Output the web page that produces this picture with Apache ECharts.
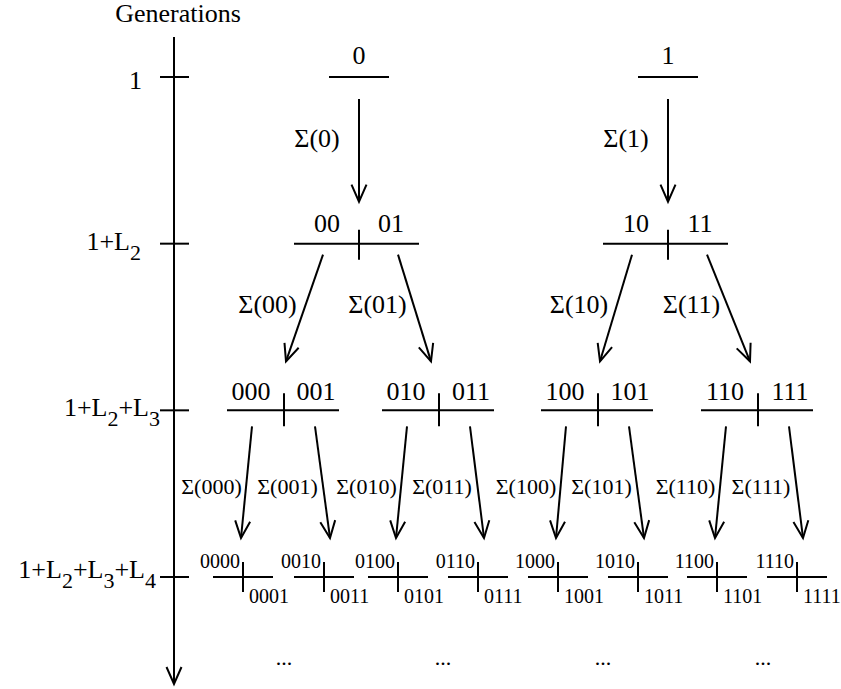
<!DOCTYPE html>
<html>
<head>
<meta charset="utf-8">
<script src="https://cdn.jsdelivr.net/npm/echarts@6/dist/echarts.min.js"></script>
<style>
html,body{margin:0;padding:0;background:#fff;}
#c{width:841px;height:689px;}
</style>
</head>
<body>
<div id="c"></div>
<script>
// ---------- data ----------
const axisTitle = 'Generations';
const generationLabels = ['1', '1+L2', '1+L2+L3', '1+L2+L3+L4'];
const generationLevels = [1, 2, 3, 4];
const level1Codes = ['0', '1'];
const level2Codes = ['00', '01', '10', '11'];
const level3Codes = ['000', '001', '010', '011', '100', '101', '110', '111'];
const level4Codes = ['0000', '0001', '0010', '0011', '0100', '0101', '0110', '0111',
                     '1000', '1001', '1010', '1011', '1100', '1101', '1110', '1111'];
const level1X = [359, 668];
const level2X = [359, 668];
const level3X = [284, 439, 598, 758];
const level4X = [243, 324, 398, 478, 558, 638, 717, 797];
const continuationX = [284, 443, 603, 763];
const continuationText = '...';

// ---------- layout / style constants ----------
const FONT = '"Liberation Serif", "Times New Roman", Times, serif';
const INK = '#000';
const LW = 2;
const AXIS_X = 174;
const AXIS_TOP_GEN = 0.76, AXIS_END_GEN = 4.642, TITLE_GEN = 0.62, TITLE_X = 178;
const CONT_GEN = 4.48;
const genLabelRight = [142, 141, 160, 156];
const genLabelDy = [3, -2, -3, -8];

function ln(x1, y1, x2, y2) {
  return { type: 'line', silent: true, shape: { x1, y1, x2, y2 },
           style: { stroke: INK, lineWidth: LW, fill: null } };
}
function tx(x, y, text, size, align) {
  return { type: 'text', silent: true,
           style: { x, y, text, fontSize: size, fontFamily: FONT, fill: INK,
                    align: align || 'center', verticalAlign: 'middle' } };
}
function arrow(x1, y1, x2, y2) {
  const a = Math.atan2(y2 - y1, x2 - x1);
  const L = 17, W = 7.5;
  const bx = x2 - L * Math.cos(a), by = y2 - L * Math.sin(a);
  const nx = -Math.sin(a), ny = Math.cos(a);
  return [ln(x1, y1, x2, y2),
    { type: 'polyline', silent: true,
      shape: { points: [[bx + nx * W, by + ny * W], [x2, y2], [bx - nx * W, by - ny * W]] },
      style: { stroke: INK, lineWidth: LW, fill: null } }];
}
function richGen(label) {
  let out = '', buf = '';
  for (let i = 0; i < label.length; i++) {
    const ch = label[i];
    if (/\d/.test(ch) && i > 0 && label[i - 1] === 'L') {
      if (buf) { out += '{m|' + buf + '}'; buf = ''; }
      out += '{s|' + ch + '}';
    } else buf += ch;
  }
  if (buf) out += '{m|' + buf + '}';
  return out;
}
const genRich = {
  m: { fontSize: 26, fontFamily: FONT, lineHeight: 26, verticalAlign: 'top', fill: INK },
  s: { fontSize: 22, fontFamily: FONT, lineHeight: 48, fill: INK }
};

const series = [];

// Generation axis shaft + title
series.push({
  type: 'custom', clip: false, silent: true,
  data: [[AXIS_X, 1]],
  renderItem(params, api) {
    const top = api.coord([api.value(0), AXIS_TOP_GEN]);
    const end = api.coord([api.value(0), AXIS_END_GEN]);
    const t = api.coord([TITLE_X, TITLE_GEN]);
    return { type: 'group', children: [
      ...arrow(top[0], top[1], end[0], end[1]),
      tx(t[0], t[1], axisTitle, 26)
    ] };
  }
});

// Generation ticks + labels
series.push({
  type: 'custom', clip: false, silent: true,
  data: generationLevels.map((g, i) => [AXIS_X, g, i]),
  renderItem(params, api) {
    const i = api.value(2);
    const c = api.coord([api.value(0), api.value(1)]);
    const label = generationLabels[i];
    const hasSub = /L\d/.test(label);
    return { type: 'group', children: [
      ln(c[0] - 14, c[1], c[0] + 15, c[1]),
      { type: 'text', silent: true,
        style: { x: genLabelRight[i], y: c[1] + genLabelDy[i] + (hasSub ? 11 : 0),
                 text: richGen(label), rich: genRich, fontSize: 26, fontFamily: FONT,
                 fill: INK, align: 'right', verticalAlign: 'middle' } }
    ] };
  }
});

// Level 1 nodes
series.push({
  type: 'custom', clip: false, silent: true,
  data: level1X.map((x, i) => [x, 1, i]),
  renderItem(params, api) {
    const c = api.coord([api.value(0), api.value(1)]);
    const i = api.value(2);
    return { type: 'group', children: [
      ln(c[0] - 30, c[1], c[0] + 30, c[1]),
      tx(c[0], c[1] - 22, level1Codes[i], 26)
    ] };
  }
});

// Level 2 nodes
series.push({
  type: 'custom', clip: false, silent: true,
  data: level2X.map((x, i) => [x, 2, i]),
  renderItem(params, api) {
    const c = api.coord([api.value(0), api.value(1)]);
    const i = api.value(2);
    return { type: 'group', children: [
      ln(c[0] - 65, c[1], c[0] + 60, c[1]),
      ln(c[0], c[1] - 14, c[0], c[1] + 16),
      tx(c[0] - 32, c[1] - 20, level2Codes[2 * i], 26),
      tx(c[0] + 32, c[1] - 20, level2Codes[2 * i + 1], 26)
    ] };
  }
});

// Level 3 nodes
series.push({
  type: 'custom', clip: false, silent: true,
  data: level3X.map((x, i) => [x, 3, i]),
  renderItem(params, api) {
    const c = api.coord([api.value(0), api.value(1)]);
    const i = api.value(2);
    return { type: 'group', children: [
      ln(c[0] - 57, c[1], c[0] + 55, c[1]),
      ln(c[0], c[1] - 17, c[0], c[1] + 16),
      tx(c[0] - 33, c[1] - 19, level3Codes[2 * i], 26),
      tx(c[0] + 32, c[1] - 19, level3Codes[2 * i + 1], 26)
    ] };
  }
});

// Level 4 nodes
series.push({
  type: 'custom', clip: false, silent: true,
  data: level4X.map((x, i) => [x, 4, i]),
  renderItem(params, api) {
    const c = api.coord([api.value(0), api.value(1)]);
    const i = api.value(2);
    return { type: 'group', children: [
      ln(c[0] - 30, c[1], c[0] + 30, c[1]),
      ln(c[0], c[1] - 15, c[0], c[1] + 15),
      tx(c[0] - 3, c[1] - 16, level4Codes[2 * i], 20, 'right'),
      tx(c[0] + 6, c[1] + 19, level4Codes[2 * i + 1], 20, 'left')
    ] };
  }
});

// Arrows level 1 -> 2
series.push({
  type: 'custom', clip: false, silent: true,
  data: level1Codes.map((code, i) => [level1X[i], 1, i]),
  renderItem(params, api) {
    const i = api.value(2);
    const p = api.coord([level1X[i], 1]);
    const c = api.coord([level2X[i], 2]);
    const s = [p[0], p[1] + 22], e = [c[0], c[1] - 42];
    return { type: 'group', children: [
      ...arrow(s[0], s[1], e[0], e[1]),
      tx((s[0] + e[0]) / 2 - 42, p[1] + 61, '\u03A3(' + level1Codes[i] + ')', 26)
    ] };
  }
});

// Arrows level 2 -> 3
series.push({
  type: 'custom', clip: false, silent: true,
  data: level2Codes.map((code, i) => [level3X[i], 3, i]),
  renderItem(params, api) {
    const i = api.value(2), side = i % 2;
    const p = api.coord([level2X[Math.floor(i / 2)], 2]);
    const c = api.coord([level3X[i], 3]);
    const s = [p[0] + (side ? 39 : -36), p[1] + 11];
    const e = [c[0] + (side ? -8 : 2), c[1] - 49];
    return { type: 'group', children: [
      ...arrow(s[0], s[1], e[0], e[1]),
      tx((s[0] + e[0]) / 2 - 37, p[1] + 61, '\u03A3(' + level2Codes[i] + ')', 26)
    ] };
  }
});

// Arrows level 3 -> 4
series.push({
  type: 'custom', clip: false, silent: true,
  data: level3Codes.map((code, i) => [level4X[i], 4, i]),
  renderItem(params, api) {
    const i = api.value(2), side = i % 2;
    const p = api.coord([level3X[Math.floor(i / 2)], 3]);
    const c = api.coord([level4X[i], 4]);
    const s = [p[0] + (side ? 31 : -32), p[1] + 16];
    const e = [c[0] + (side ? 6 : -2), c[1] - 39];
    return { type: 'group', children: [
      ...arrow(s[0], s[1], e[0], e[1]),
      tx((s[0] + e[0]) / 2 - 35, p[1] + 76, '\u03A3(' + level3Codes[i] + ')', 22)
    ] };
  }
});

// Continuation dots
series.push({
  type: 'custom', clip: false, silent: true,
  data: continuationX.map((x) => [x, CONT_GEN]),
  renderItem(params, api) {
    const c = api.coord([api.value(0), api.value(1)]);
    return tx(c[0], c[1], continuationText, 22);
  }
});

const chart = echarts.init(document.getElementById('c'), null, { renderer: 'svg' });
chart.setOption({
  animation: false,
  backgroundColor: '#fff',
  grid: { left: 0, right: 0, top: 2, bottom: 12 },
  xAxis: { type: 'value', min: 0, max: 841, show: false },
  yAxis: { type: 'value', inverse: true, min: 0.55, max: 4.6, show: false },
  series
});
</script>
</body>
</html>
